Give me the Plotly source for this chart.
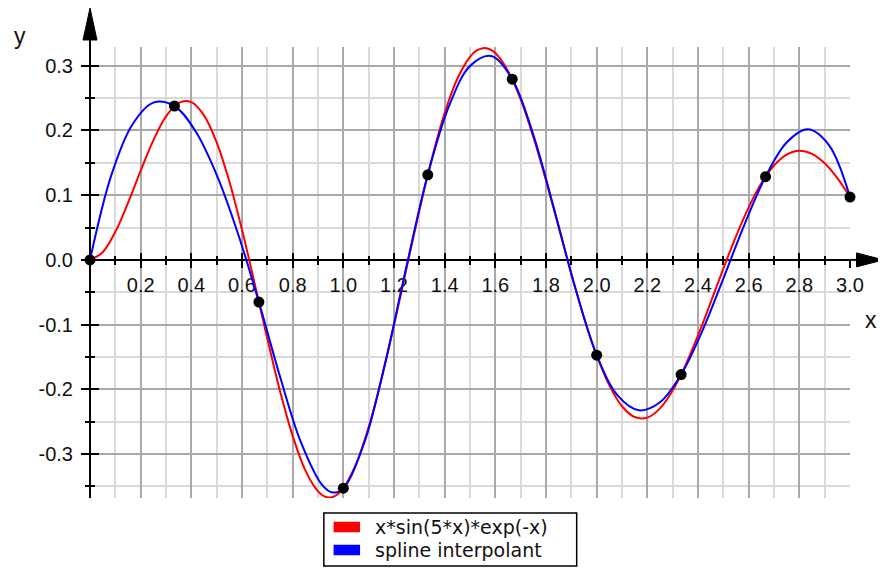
import plotly.graph_objects as go

# ---------------- data ----------------
func_x = [0.0, 0.05, 0.1, 0.15, 0.2, 0.25, 0.3, 0.35, 0.4, 0.45, 0.5, 0.55, 0.6, 0.65,
          0.7, 0.75, 0.8, 0.85, 0.9, 0.925, 0.95, 0.975, 1.0, 1.05, 1.1, 1.15, 1.2, 1.25,
          1.3, 1.35, 1.4, 1.45, 1.5, 1.525, 1.55, 1.575, 1.6, 1.65, 1.7, 1.75, 1.8, 1.85,
          1.9, 1.95, 2.0, 2.05, 2.1, 2.15, 2.2, 2.25, 2.3, 2.35, 2.4, 2.45, 2.5, 2.55,
          2.6, 2.65, 2.7, 2.75, 2.8, 2.85, 2.9, 2.95, 3.0]
func_y = [0.0, 0.0118, 0.0434, 0.0880, 0.1378, 0.1848, 0.2217, 0.2427, 0.2438, 0.2233,
          0.1815, 0.1211, 0.0465, -0.0367, -0.1219, -0.2025, -0.2720, -0.3252, -0.3577,
          -0.3654, -0.3671, -0.3629, -0.3528, -0.3156, -0.2583, -0.1851, -0.1010, -0.0119,
          0.0762, 0.1575, 0.2268, 0.2799, 0.3139, 0.3233, 0.3272, 0.3259, 0.3196, 0.2921,
          0.2480, 0.1899, 0.1226, 0.0506, -0.0214, -0.0886, -0.1473, -0.1939, -0.2262,
          -0.2429, -0.2438, -0.2295, -0.2019, -0.1633, -0.1168, -0.0658, -0.0136, 0.0364,
          0.0811, 0.1183, 0.1459, 0.1628, 0.1687, 0.1638, 0.1492, 0.1263, 0.0971]

spline_x = [0.0, 0.0833, 0.1667, 0.25, 0.3333, 0.4167, 0.5, 0.5833, 0.6667, 0.75, 0.8333,
            0.9167, 0.9583, 1.0, 1.0833, 1.1667, 1.25, 1.3333, 1.4167, 1.5, 1.5833, 1.6667,
            1.75, 1.8333, 1.9167, 2.0, 2.0833, 2.1667, 2.25, 2.3333, 2.4167, 2.5, 2.5833,
            2.6667, 2.75, 2.8333, 2.9167, 3.0]
spline_y = [0.0, 0.1298, 0.2089, 0.2431, 0.2378, 0.1987, 0.1314, 0.0416, -0.0652, -0.1803,
            -0.2826, -0.3481, -0.3596, -0.3528, -0.2817, -0.1566, -0.0086, 0.1315, 0.2371,
            0.2996, 0.3151, 0.2793, 0.1932, 0.0767, -0.0451, -0.1473, -0.2098, -0.2324,
            -0.2200, -0.1772, -0.1100, -0.0288, 0.0546, 0.1286, 0.1815, 0.2017, 0.1775,
            0.0971]

node_x = [0.0, 0.3333, 0.6667, 1.0, 1.3333, 1.6667, 2.0, 2.3333, 2.6667, 3.0]
node_y = [0.0, 0.2378, -0.0652, -0.3528, 0.1315, 0.2793, -0.1473, -0.1772, 0.1286, 0.0971]

x_tick_vals = [0.2, 0.4, 0.6, 0.8, 1.0, 1.2, 1.4, 1.6, 1.8, 2.0, 2.2, 2.4, 2.6, 2.8, 3.0]
x_tick_text = ["0.2", "0.4", "0.6", "0.8", "1.0", "1.2", "1.4", "1.6", "1.8", "2.0",
               "2.2", "2.4", "2.6", "2.8", "3.0"]
y_tick_vals = [-0.3, -0.2, -0.1, 0.0, 0.1, 0.2, 0.3]
y_tick_text = ["-0.3", "-0.2", "-0.1", "0.0", "0.1", "0.2", "0.3"]

legend_names = ["x*sin(5*x)*exp(-x)", "spline interpolant"]
legend_colors = ["#ff0000", "#0000ff"]

# ---------------- layout constants ----------------
# the page body adds an 8px offset; layout values below are window pixels
OFF = 8
W, H = 886 - OFF, 568 - OFF
PLOT_L, PLOT_R, PLOT_T, PLOT_B = 90, 850.5, 47, 498  # window pixels
L, T = PLOT_L - OFF, PLOT_T - OFF
R, B = W - (PLOT_R - OFF), H - (PLOT_B - OFF)
PW, PH = PLOT_R - PLOT_L, PLOT_B - PLOT_T
XMIN, XMAX = 0.0, 3.0
YMIN, YMAX = -0.368, 0.329
YPOS = (0 - YMIN) / (YMAX - YMIN)

FONT = "Liberation Sans, Arial, sans-serif"
LEG_FONT = "DejaVu Sans, Verdana, sans-serif"
MAJ_GRID = "#a9a9a9"
MIN_GRID = "#dadada"


def pxx(px):
    return (px - PLOT_L) / PW


def pyy(py):
    return (PLOT_B - py) / PH


fig = go.Figure()

fig.add_trace(go.Scatter(x=func_x, y=func_y, mode="lines", name=legend_names[0],
                         line=dict(color=legend_colors[0], width=2, shape="spline"),
                         showlegend=False, hoverinfo="skip"))
fig.add_trace(go.Scatter(x=spline_x, y=spline_y, mode="lines", name=legend_names[1],
                         line=dict(color=legend_colors[1], width=2, shape="spline"),
                         showlegend=False, hoverinfo="skip"))
fig.add_trace(go.Scatter(x=node_x, y=node_y, mode="markers", marker=dict(color="black", size=11),
                         showlegend=False, cliponaxis=False, hoverinfo="skip"))

# invisible trace for overlay axes (inside ticks)
fig.add_trace(go.Scatter(x=[XMIN], y=[0], xaxis="x2", yaxis="y2", mode="markers",
                         marker=dict(opacity=0), showlegend=False, hoverinfo="skip"))

common_tick = dict(tickcolor="black", tickwidth=2)

fig.update_layout(
    width=W, height=H,
    margin=dict(l=L, r=R, t=T, b=B, autoexpand=False),
    paper_bgcolor="white", plot_bgcolor="white",
    font=dict(family=FONT, size=20, color="#111111"),
    showlegend=False,
    xaxis=dict(
        range=[XMIN, XMAX], tickmode="array", tickvals=x_tick_vals, ticktext=x_tick_text,
        ticks="outside", ticklen=7, **common_tick,
        showgrid=True, gridcolor=MAJ_GRID, gridwidth=2,
        minor=dict(tickmode="linear", tick0=0, dtick=0.1, ticks="outside", ticklen=4,
                   tickcolor="black", tickwidth=2, showgrid=True, gridcolor=MIN_GRID, gridwidth=2),
        showline=True, linecolor="black", linewidth=2,
        anchor="free", position=YPOS, zeroline=False, layer="below traces",
        ticklabelstandoff=0, automargin=False,
    ),
    yaxis=dict(
        range=[YMIN, YMAX], tickmode="array", tickvals=y_tick_vals, ticktext=y_tick_text,
        ticks="outside", ticklen=8, **common_tick,
        showgrid=True, gridcolor=MAJ_GRID, gridwidth=2,
        minor=dict(tickmode="linear", tick0=0, dtick=0.05, ticks="outside", ticklen=4,
                   tickcolor="black", tickwidth=2, showgrid=True, gridcolor=MIN_GRID, gridwidth=2),
        showline=True, linecolor="black", linewidth=2,
        anchor="free", position=0, zeroline=False, layer="below traces",
        ticklabelstandoff=4, automargin=False,
    ),
    xaxis2=dict(
        range=[XMIN, XMAX], overlaying="x", anchor="free", position=YPOS,
        tickmode="array", tickvals=x_tick_vals, ticks="inside", ticklen=7, **common_tick,
        minor=dict(tickmode="linear", tick0=0, dtick=0.1, ticks="inside", ticklen=4,
                   tickcolor="black", tickwidth=2, showgrid=False),
        showticklabels=False, showgrid=False, showline=False, zeroline=False, automargin=False,
    ),
    yaxis2=dict(
        range=[YMIN, YMAX], overlaying="y", anchor="free", position=0,
        tickmode="array", tickvals=y_tick_vals, ticks="inside", ticklen=8, **common_tick,
        minor=dict(tickmode="linear", tick0=0, dtick=0.05, ticks="inside", ticklen=4,
                   tickcolor="black", tickwidth=2, showgrid=False),
        showticklabels=False, showgrid=False, showline=False, zeroline=False, automargin=False,
    ),
)

# axis titles
fig.add_annotation(text="y", xref="paper", yref="paper", x=pxx(20), y=pyy(36),
                   showarrow=False, font=dict(family=FONT, size=23, color="#111111"),
                   xanchor="center", yanchor="middle")
fig.add_annotation(text="x", xref="paper", yref="paper", x=pxx(872), y=pyy(320),
                   showarrow=False, font=dict(family=FONT, size=23, color="#111111"),
                   xanchor="center", yanchor="middle")

# axis arrows (decoration)
hw_x = 7 / PW
hw_y = 7 / PH
fig.add_shape(type="line", xref="paper", yref="paper", x0=0, x1=0, y0=1.0, y1=pyy(38),
              line=dict(color="black", width=2), layer="above")
fig.add_shape(type="path", xref="paper", yref="paper",
              path=f"M {-hw_x},{pyy(40)} L 0,{pyy(8)} L {hw_x},{pyy(40)} Z",
              fillcolor="black", line=dict(color="black", width=1), layer="above")
fig.add_shape(type="line", xref="paper", yref="paper", x0=1.0, x1=pxx(859), y0=YPOS, y1=YPOS,
              line=dict(color="black", width=2), layer="above")
fig.add_shape(type="path", xref="paper", yref="paper",
              path=f"M {pxx(857)},{YPOS - hw_y} L {pxx(884)},{YPOS} L {pxx(857)},{YPOS + hw_y} Z",
              fillcolor="black", line=dict(color="black", width=1), layer="above")

# legend box (below the plot)
LEG_L, LEG_R, LEG_T, LEG_B = 324, 577, 513, 566
fig.add_shape(type="rect", xref="paper", yref="paper",
              x0=pxx(LEG_L), x1=pxx(LEG_R), y0=pyy(LEG_B), y1=pyy(LEG_T),
              line=dict(color="black", width=1.5), fillcolor="white", layer="above")
row_centers = [527, 550]
for name, col, yc in zip(legend_names, legend_colors, row_centers):
    fig.add_shape(type="rect", xref="paper", yref="paper",
                  x0=pxx(335), x1=pxx(359), y0=pyy(yc + 4), y1=pyy(yc - 4),
                  line=dict(color=col, width=2.5), fillcolor=col, layer="above")
    fig.add_annotation(text=name, xref="paper", yref="paper", x=pxx(373), y=pyy(yc),
                       showarrow=False, xanchor="left", yanchor="middle",
                       font=dict(family=LEG_FONT, size=19, color="#111111"))

fig.write_html("out.html")
